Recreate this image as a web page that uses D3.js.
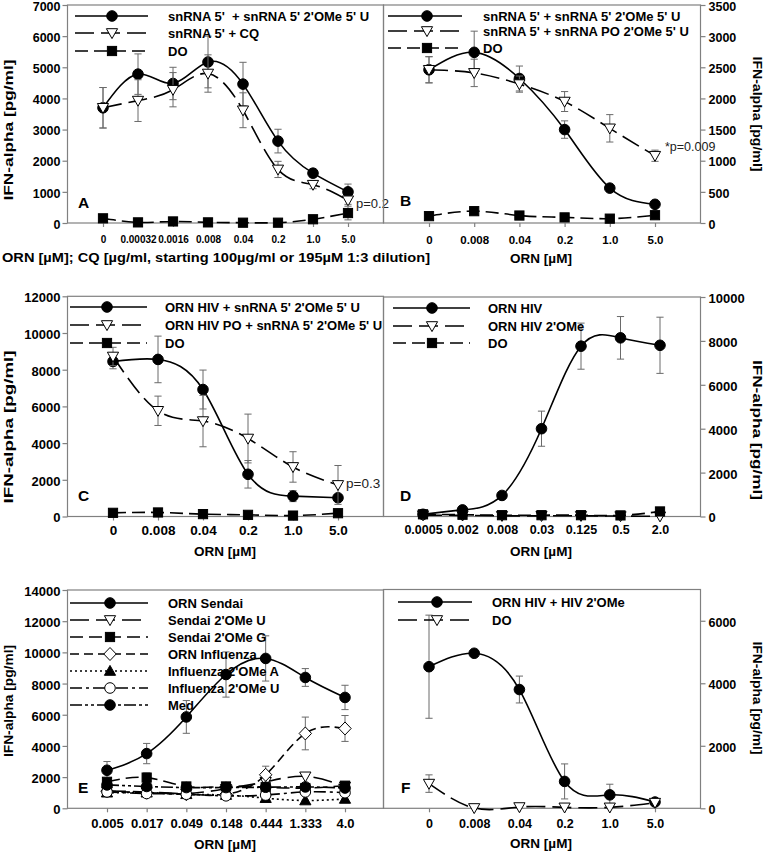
<!DOCTYPE html>
<html><head><meta charset="utf-8">
<script src="https://cdn.jsdelivr.net/npm/d3@7"></script>
<style>
body{margin:0;background:#fff}
svg{display:block}
text{font-family:"Liberation Sans",Arial,Helvetica,sans-serif;white-space:pre}
</style>
</head><body>
<svg id="chart" width="768" height="853"></svg>
<script>
// ---------------- DATA ----------------
// Panel A
const catA = ["0","0.00032","0.0016","0.008","0.04","0.2","1.0","5.0"];
const ticksA = [0,1000,2000,3000,4000,5000,6000,7000];
const aSn = [3700,4780,4480,5170,4460,2630,1600,1000];
const aSnErr = [650,650,520,830,700,380,130,250];
const aCQ = [3700,3930,4280,4800,3620,1720,1230,730];
const aCQErr = [650,670,550,600,560,260,130,130];
const aDO = [150,20,50,20,10,10,120,320];
const aDOErr = [0,0,0,0,0,0,0,220];
// Panel B
const catB = ["0","0.008","0.04","0.2","1.0","5.0"];
const ticksB = [0,500,1000,1500,2000,2500,3000,3500];
const bSn = [2460,2740,2320,1500,560,300];
const bSnErr = [210,340,200,140,0,0];
const bPO = [2460,2410,2230,1950,1520,1080];
const bPOErr = [210,220,130,160,220,90];
const bDO = [110,190,120,90,70,125];
// Panel C
const catC = ["0","0.008","0.04","0.2","1.0","5.0"];
const ticksC = [0,2000,4000,6000,8000,10000,12000];
const cHIV = [8450,8560,6920,2300,1110,1020];
const cHIVErr = [400,1270,1060,750,300,0];
const cPO = [8720,5760,5200,4250,2700,1720];
const cPOErr = [500,800,1400,1330,830,1060];
const cDO = [200,220,130,90,50,180];
// Panel D
const catD = ["0.0005","0.002","0.008","0.03","0.125","0.5","2.0"];
const ticksD = [0,2000,4000,6000,8000,10000];
const dHIV = [100,300,960,4000,7760,8140,7800];
const dHIVErr = [0,0,0,800,1050,970,1280];
const dOMe = [60,50,30,30,30,20,10];
const dDO = [100,80,60,60,60,50,230];
// Panel E
const catE = ["0.005","0.017","0.049","0.148","0.444","1.333","4.0"];
const ticksE = [0,2000,4000,6000,8000,10000,12000,14000];
const eSendai = [2440,3510,5860,8580,9610,8390,7110];
const eSendaiErr = [560,650,1050,1450,1450,570,780];
const eSendaiU = [1100,1050,950,1250,1700,2050,1400];
const eSendaiG = [1700,1970,1400,1400,1350,1300,1450];
const eSendaiGErr = [0,300,0,0,0,0,0];
const eInflu = [1100,1000,900,900,2150,4800,5120];
const eInfluErr = [0,0,0,0,550,1050,830];
const eInfluA = [1000,1000,900,850,650,500,600];
const eInfluU = [1050,950,900,800,850,1050,1000];
const eMed = [1500,1400,1330,1330,1350,1370,1300];
// Panel F
const catF = ["0","0.008","0.04","0.2","1.0","5.0"];
const ticksF = [0,2000,4000,6000];
const fHIV = [4530,4960,3800,860,430,200];
const fHIVErr = [1650,0,430,560,340,0];
const fDO = [790,10,40,30,30,180];
const fDOErr = [280,0,0,0,0,0];

// ---------------- STYLES / LAYOUT ----------------
const DASH_SOLID = null, DASH_LONG = "19,7", DASH_MED = "13,6", DASH_SHORT = "9,5",
      DASH_DOT = "2,3", DASH_DD = "12,4,3,4", DASH_DDD = "12,3,3,3,3,3";

const panels = [
 {letter:"A", cats:catA, ticks:ticksA, yMax:7000, side:"left", x0:67, x1:383, yTop:5, yBot:223,
  xr:[103,348], xFont:10, xPad:8.5, yFont:12.5,
  series:[
   {name:"snRNA 5'  + snRNA 5' 2'OMe 5' U", v:aSn, e:aSnErr, dash:DASH_SOLID, m:"circle", fill:"#000"},
   {name:"snRNA 5' + CQ", v:aCQ, e:aCQErr, dash:DASH_LONG, m:"triDown", fill:"#fff"},
   {name:"DO", v:aDO, e:aDOErr, dash:DASH_MED, m:"square", fill:"#000"}],
  legend:{x0:75,x1:148,mx:112,tx:168,ys:[16,33,51]},
  lp:[78,208], yTitle:{x:8,y:130,len:141},
  xTitle:{text:"ORN [µM]; CQ [µg/ml, starting 100µg/ml or 195µM 1:3 dilution]", x:216, y:262, len:428},
  note:{text:"p=0.2", x:356, y:208, size:13}},
 {letter:"B", cats:catB, ticks:ticksB, yMax:3500, side:"right", x0:383, x1:700, yTop:5, yBot:223,
  xr:[429,655], xFont:11.5, xPad:9, yFont:12.5,
  series:[
   {name:"snRNA 5' + snRNA 5' 2'OMe 5' U", v:bSn, e:bSnErr, dash:DASH_SOLID, m:"circle", fill:"#000"},
   {name:"snRNA 5' + snRNA PO 2'OMe 5' U", v:bPO, e:bPOErr, dash:DASH_LONG, m:"triDown", fill:"#fff"},
   {name:"DO", v:bDO, e:null, dash:DASH_MED, m:"square", fill:"#000"}],
  legend:{x0:388,x1:462,mx:427,tx:483,ys:[16,31,48]},
  lp:[400,206], yTitle:{x:758,y:114,len:115},
  xTitle:{text:"ORN [µM]", x:541, y:263},
  note:{text:"*p=0.009", x:665, y:151, size:12.5}},
 {letter:"C", cats:catC, ticks:ticksC, yMax:12000, side:"left", x0:67, x1:383, yTop:296.3, yBot:516.5,
  xr:[113,338], xFont:13.5, xPad:4.6, yFont:13,
  series:[
   {name:"ORN HIV + snRNA 5' 2'OMe 5' U", v:cHIV, e:cHIVErr, dash:DASH_SOLID, m:"circle", fill:"#000"},
   {name:"ORN HIV PO + snRNA 5' 2'OMe 5' U", v:cPO, e:cPOErr, dash:DASH_LONG, m:"triDown", fill:"#fff"},
   {name:"DO", v:cDO, e:null, dash:DASH_MED, m:"square", fill:"#000"}],
  legend:{x0:70,x1:147,mx:107,tx:165,ys:[307,325,343]},
  lp:[78,501], yTitle:{x:8,y:427,len:153},
  xTitle:{text:"ORN [µM]", x:225, y:556},
  note:{text:"p=0.3", x:346, y:488, size:13.5}},
 {letter:"D", cats:catD, ticks:ticksD, yMax:10000, side:"right", x0:383, x1:700, yTop:297, yBot:516.5,
  xr:[423,660], xFont:12.5, xPad:5, yFont:13,
  series:[
   {name:"ORN HIV", v:dHIV, e:dHIVErr, dash:DASH_SOLID, m:"circle", fill:"#000"},
   {name:"ORN HIV 2'OMe", v:dOMe, e:null, dash:DASH_LONG, m:"triDown", fill:"#fff"},
   {name:"DO", v:dDO, e:null, dash:DASH_MED, m:"square", fill:"#000"}],
  legend:{x0:393,x1:470,mx:432,tx:488,ys:[308,326,343]},
  lp:[400,501], yTitle:{x:758,y:430,len:140},
  xTitle:{text:"ORN [µM]", x:541, y:556}},
 {letter:"E", cats:catE, ticks:ticksE, yMax:14000, side:"left", x0:67, x1:383, yTop:590, yBot:808.3,
  xr:[107,345], xFont:13, xPad:6.4, yFont:13,
  series:[
   {name:"ORN Sendai", v:eSendai, e:eSendaiErr, dash:DASH_SOLID, m:"circle", fill:"#000"},
   {name:"Sendai 2'OMe U", v:eSendaiU, e:null, dash:DASH_LONG, m:"triDown", fill:"#fff"},
   {name:"Sendai 2'OMe G", v:eSendaiG, e:eSendaiGErr, dash:DASH_MED, m:"square", fill:"#000"},
   {name:"ORN Influenza", v:eInflu, e:eInfluErr, dash:DASH_SHORT, m:"diamond", fill:"#fff"},
   {name:"Influenza 2'OMe A", v:eInfluA, e:null, dash:DASH_DOT, m:"triUp", fill:"#000"},
   {name:"Influenza 2'OMe U", v:eInfluU, e:null, dash:DASH_DD, m:"circle", fill:"#fff"},
   {name:"Med", v:eMed, e:null, dash:DASH_DDD, m:"circle", fill:"#000"}],
  legend:{x0:70,x1:148,mx:110,tx:168,ys:[603,620,637,654,671,688,705]},
  lp:[78,793], yTitle:{x:8,y:701,len:112},
  xTitle:{text:"ORN [µM]", x:225, y:849}},
 {letter:"F", cats:catF, ticks:ticksF, yMax:7000, side:"right", x0:383, x1:700, yTop:589.5, yBot:808.3,
  xr:[429,655], xFont:12.5, xPad:6.7, yFont:12.5,
  series:[
   {name:"ORN HIV + HIV 2'OMe", v:fHIV, e:fHIVErr, dash:DASH_SOLID, m:"circle", fill:"#000"},
   {name:"DO", v:fDO, e:fDOErr, dash:DASH_LONG, m:"triDown", fill:"#fff"}],
  legend:{x0:398,x1:472,mx:437,tx:492,ys:[602,620]},
  lp:[401,793], yTitle:{x:758,y:698,len:113},
  xTitle:{text:"ORN [µM]", x:541, y:848}}
];

// ---------------- DRAW ----------------
const svg = d3.select("#chart");
const FRAME = "#808080", ERR = "#6a6a6a";

function marker(g, type, fill, x, y) {
  if (type === "circle") {
    g.append("circle").attr("cx", x).attr("cy", y).attr("r", 5.3)
      .attr("fill", fill).attr("stroke", "#000").attr("stroke-width", 1);
  } else if (type === "square") {
    g.append("rect").attr("x", x - 4.6).attr("y", y - 4.6).attr("width", 9.2).attr("height", 9.2)
      .attr("fill", fill).attr("stroke", "#000").attr("stroke-width", 1);
  } else {
    const p = d3.path();
    if (type === "triDown") { p.moveTo(x-5.6,y-4.3); p.lineTo(x+5.6,y-4.3); p.lineTo(x,y+5.6); p.closePath(); }
    if (type === "triUp")   { p.moveTo(x-5.6,y+4.3); p.lineTo(x+5.6,y+4.3); p.lineTo(x,y-5.6); p.closePath(); }
    if (type === "diamond") { p.moveTo(x,y-6.5); p.lineTo(x+6.2,y); p.lineTo(x,y+6.5); p.lineTo(x-6.2,y); p.closePath(); }
    g.append("path").attr("d", p.toString()).attr("fill", fill)
      .attr("stroke", "#000").attr("stroke-width", 1);
  }
}

panels.forEach(P => {
  const g = svg.append("g");
  const x = d3.scalePoint().domain(P.cats).range(P.xr);
  const y = d3.scaleLinear().domain([0, P.yMax]).range([P.yBot, P.yTop]);

  // frame
  g.append("rect").attr("x", P.x0 + 0.5).attr("y", P.yTop).attr("width", P.x1 - P.x0)
    .attr("height", P.yBot - P.yTop).attr("fill", "none").attr("stroke", FRAME).attr("stroke-width", 1.2);

  // y axis
  const yAx = (P.side === "left" ? d3.axisLeft(y) : d3.axisRight(y))
    .tickValues(P.ticks).tickFormat(d3.format("d")).tickSize(5).tickSizeOuter(0).tickPadding(P.side === "left" ? 2 : 3);
  const ya = g.append("g").attr("transform", `translate(${P.side === "left" ? P.x0 + 0.5 : P.x1 + 0.5},0)`).call(yAx);
  ya.select(".domain").remove();
  ya.selectAll("line").attr("stroke", FRAME).attr("stroke-width", 1.2);
  ya.selectAll("text").attr("font-size", P.yFont).attr("font-weight", "bold").attr("fill", "#000")
    .attr("dy", "0.42em")
    .attr("font-family", "Liberation Sans, Arial, sans-serif");

  // x axis
  const xAx = d3.axisBottom(x).tickSize(4).tickSizeOuter(0).tickPadding(P.xPad);
  const xa = g.append("g").attr("transform", `translate(0,${P.yBot})`).call(xAx);
  xa.select(".domain").remove();
  xa.selectAll("line").attr("stroke", FRAME).attr("stroke-width", 1.2);
  xa.selectAll("text").attr("font-size", P.xFont).attr("font-weight", "bold").attr("fill", "#000")
    .attr("font-family", "Liberation Sans, Arial, sans-serif");

  // series
  const line = d3.line().x((d, i) => x(P.cats[i])).y(d => y(d)).curve(d3.curveNatural);
  P.series.forEach(s => {
    const sg = g.append("g");
    if (s.e) {
      s.v.forEach((v, i) => {
        const e = s.e[i]; if (!e) return;
        const cx = x(P.cats[i]);
        const y1 = y(v + e), y2 = y(v - e);
        sg.append("line").attr("x1", cx).attr("x2", cx).attr("y1", y1).attr("y2", y2)
          .attr("stroke", ERR).attr("stroke-width", 1);
        [y1, y2].forEach(yy => sg.append("line").attr("x1", cx - 3.6).attr("x2", cx + 3.6)
          .attr("y1", yy).attr("y2", yy).attr("stroke", ERR).attr("stroke-width", 1));
      });
    }
    sg.append("path").attr("d", line(s.v)).attr("fill", "none").attr("stroke", "#000")
      .attr("stroke-width", 1.6).attr("stroke-dasharray", s.dash);
    s.v.forEach((v, i) => marker(sg, s.m, s.fill, x(P.cats[i]), y(v)));
  });

  // legend
  const L = P.legend;
  P.series.forEach((s, i) => {
    const ly = L.ys[i];
    const lg = g.append("g");
    lg.append("line").attr("x1", L.x0).attr("x2", L.x1).attr("y1", ly).attr("y2", ly)
      .attr("stroke", "#000").attr("stroke-width", 1.6).attr("stroke-dasharray", s.dash);
    marker(lg, s.m, s.fill, L.mx, ly);
    lg.append("text").attr("x", L.tx).attr("y", ly + 4.6).attr("font-size", 13)
      .attr("font-weight", "bold").attr("xml:space", "preserve").text(s.name);
  });

  // panel letter
  g.append("text").attr("x", P.lp[0]).attr("y", P.lp[1]).attr("font-size", 15.5)
    .attr("font-weight", "bold").text(P.letter);

  // y title
  const yt = P.yTitle;
  g.append("text").attr("transform", `translate(${yt.x},${yt.y}) rotate(${P.side === "left" ? -90 : 90})`)
    .attr("text-anchor", "middle").attr("dy", "0.35em").attr("font-size", 13).attr("font-weight", "bold")
    .attr("textLength", yt.len).attr("lengthAdjust", "spacingAndGlyphs")
    .text("IFN-alpha [pg/ml]");

  // x title
  const xt = g.append("text").attr("x", P.xTitle.x).attr("y", P.xTitle.y).attr("text-anchor", "middle")
    .attr("font-size", 13.5).attr("font-weight", "bold").text(P.xTitle.text);
  if (P.xTitle.len) xt.attr("textLength", P.xTitle.len).attr("lengthAdjust", "spacingAndGlyphs");

  // annotation
  if (P.note) {
    g.append("text").attr("x", P.note.x).attr("y", P.note.y).attr("font-size", P.note.size)
      .attr("fill", "#222").text(P.note.text);
  }
});
</script>
</body></html>
